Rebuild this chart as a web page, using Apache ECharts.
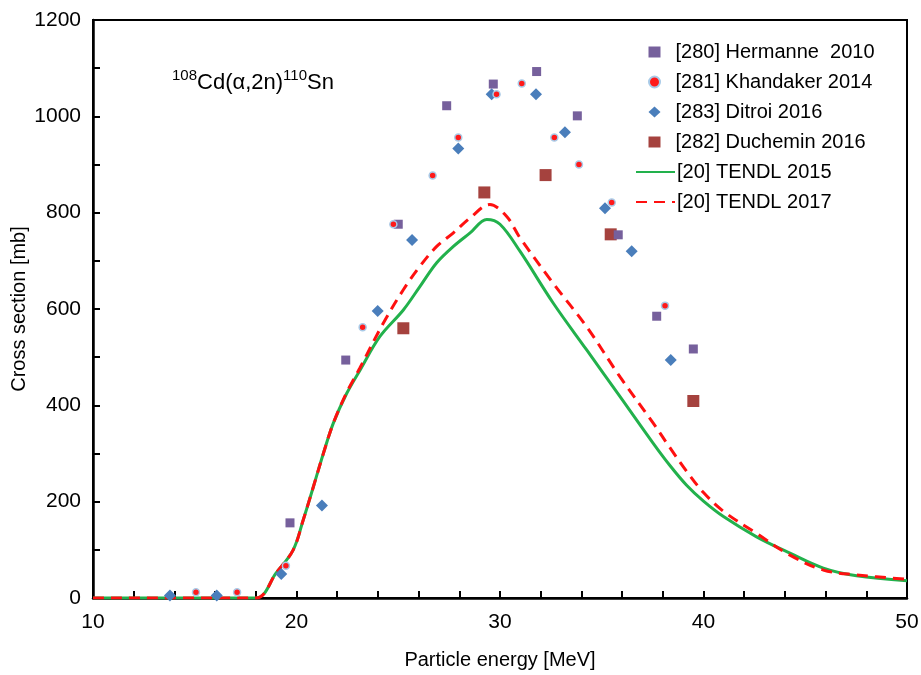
<!DOCTYPE html>
<html>
<head>
<meta charset="utf-8">
<script src="https://cdn.jsdelivr.net/npm/echarts@6/dist/echarts.min.js"></script>
<style>
  html, body { margin: 0; padding: 0; background: #fff; }
  #chart { width: 921px; height: 675px; }
</style>
</head>
<body>
<div id="chart"></div>
<script>
// ---- Data ----
const hermanneE = [19.68, 22.42, 25.0, 27.38, 29.67, 31.80, 33.80, 35.81, 37.70, 39.50];
const hermanneY = [156, 494, 776, 1022, 1067, 1093, 1001, 754, 585, 517];

const khandakerE = [15.06, 17.08, 19.48, 23.25, 24.76, 26.69, 27.95, 29.83, 31.07, 32.67, 33.88, 35.49, 38.11];
const khandakerY = [12, 12, 67, 562, 776, 877, 956, 1046, 1068, 956, 900, 821, 607];

const ditroiE = [13.78, 16.08, 19.25, 21.25, 23.99, 25.68, 27.95, 29.59, 31.77, 33.19, 35.16, 36.47, 38.39];
const ditroiY = [5, 5, 50, 192, 596, 743, 933, 1046, 1046, 967, 809, 720, 494];

const ducheminE = [25.25, 29.23, 32.24, 35.44, 39.50];
const ducheminY = [560, 842, 878, 755, 409];

const tendl2015E = [10, 18, 19.0, 19.84, 20.33, 20.83, 21.32, 21.81, 22.47, 23.12, 24.1, 25.25, 26.07, 26.89, 27.71, 28.53, 29.35, 30.0, 30.98, 32.62, 34.26, 35.9, 37.53, 38.35, 39.17, 40.0, 40.98, 42.61, 44.25, 45.89, 47.52, 50];
const tendl2015Y = [0, 0, 52, 100, 162, 231, 300, 363, 425, 473, 543, 598, 647, 696, 730, 758, 786, 776, 720, 612, 515, 418, 321, 275, 234, 201, 169, 127, 93, 62, 46, 36];

const tendl2017E = [10, 18, 19.0, 19.84, 20.33, 20.83, 21.32, 21.81, 22.47, 23.12, 24.27, 25.25, 26.07, 26.89, 27.71, 28.53, 29.5, 30.33, 30.98, 32.62, 34.26, 35.9, 37.53, 38.35, 39.17, 40.0, 40.98, 42.61, 44.25, 45.89, 47.52, 50];
const tendl2017Y = [0, 0, 52, 100, 162, 231, 300, 363, 427, 478, 571, 640, 689, 730, 758, 789, 817, 792, 748, 653, 563, 459, 363, 312, 263, 219, 180, 134, 89, 58, 48, 39];

const seriesNames = ['[280] Hermanne  2010', '[281] Khandaker 2014', '[283] Ditroi 2016', '[282] Duchemin 2016', '[20] TENDL 2015', '[20] TENDL 2017'];

const xAxisMin = 10, xAxisMax = 50, xAxisInterval = 10;
const yAxisMin = 0, yAxisMax = 1200, yAxisInterval = 200;

function zip(a, b) { return a.map((v, i) => [v, b[i]]); }

const FONT = 'Liberation Sans, Arial, sans-serif';
const chart = echarts.init(document.getElementById('chart'), null, { renderer: 'canvas' });

const legendText = { fontSize: 20, fontFamily: FONT, color: '#000' };

chart.setOption({
  animation: false,
  backgroundColor: '#fff',
  textStyle: { fontFamily: FONT },
  title: {
    left: 167, top: 63,
    text: '{sup|108}{main|Cd(α,2n)}{sup|110}{main|Sn}',
    textStyle: {
      fontWeight: 'normal',
      rich: {
        sup: { fontSize: 15, fontFamily: FONT, fontWeight: 'normal', color: '#000', verticalAlign: 'top', lineHeight: 16 },
        main: { fontSize: 22, fontFamily: FONT, fontWeight: 'normal', color: '#000', lineHeight: 30 }
      }
    }
  },
  grid: { left: 93, right: 14, top: 20, bottom: 77, show: true, borderColor: '#000', borderWidth: 2, containLabel: false, outerBoundsMode: 'none' },
  legend: [
    {
      orient: 'vertical', left: 648, top: 42, padding: 0,
      itemWidth: 12, itemHeight: 11, itemGap: 10,
      textStyle: Object.assign({ padding: [0, 0, 0, 10] }, legendText),
      data: [
        { name: seriesNames[0] },
        { name: seriesNames[1] },
        { name: seriesNames[2] },
        { name: seriesNames[3] }
      ]
    },
    {
      orient: 'vertical', left: 635, top: 162, padding: 0,
      itemWidth: 39, itemHeight: 11, itemGap: 10,
      textStyle: Object.assign({ padding: [0, 0, 0, -3] }, legendText),
      data: [
        { name: seriesNames[4], itemStyle: { opacity: 0 } },
        { name: seriesNames[5], itemStyle: { opacity: 0 } }
      ]
    }
  ],
  xAxis: {
    type: 'value', min: xAxisMin, max: xAxisMax, interval: xAxisInterval,
    name: 'Particle energy [MeV]', nameLocation: 'middle', nameGap: 52, nameMoveOverlap: false,
    nameTextStyle: { fontSize: 20, fontFamily: FONT, color: '#000' },
    axisLine: { onZero: false, lineStyle: { color: '#000', width: 2.5 } },
    axisTick: { inside: true, length: 7, lineStyle: { color: '#000', width: 2 } },
    minorTick: { show: true, splitNumber: 5, length: 7, lineStyle: { color: '#000', width: 2 } },
    axisLabel: { fontSize: 21, fontFamily: FONT, color: '#000', margin: 14 },
    splitLine: { show: false }
  },
  yAxis: {
    type: 'value', min: yAxisMin, max: yAxisMax, interval: yAxisInterval,
    name: 'Cross section [mb]', nameLocation: 'middle', nameGap: 64, nameMoveOverlap: false,
    nameTextStyle: { fontSize: 20, fontFamily: FONT, color: '#000' },
    axisLine: { show: true, lineStyle: { color: '#000', width: 2.5 } },
    axisTick: { inside: true, length: 7, lineStyle: { color: '#000', width: 2 } },
    minorTick: { show: true, splitNumber: 2, length: 7, lineStyle: { color: '#000', width: 2 } },
    axisLabel: { fontSize: 21, fontFamily: FONT, color: '#000', margin: 12, formatter: v => String(v) },
    splitLine: { show: false }
  },
  series: [
    {
      name: seriesNames[4], type: 'line', data: zip(tendl2015E, tendl2015Y), symbol: 'none', showSymbol: false,
      smooth: 0.35, z: 2,
      lineStyle: { color: '#22b14c', width: 3 }, itemStyle: { color: '#22b14c' }
    },
    {
      name: seriesNames[5], type: 'line', data: zip(tendl2017E, tendl2017Y), symbol: 'none', showSymbol: false,
      smooth: 0.35, z: 3,
      lineStyle: { color: '#ff1010', width: 3, type: [11, 7] }, itemStyle: { color: '#ff1010' }
    },
    {
      name: seriesNames[0], type: 'scatter', data: zip(hermanneE, hermanneY), symbol: 'rect', symbolSize: 9, z: 5,
      itemStyle: { color: '#76609c', opacity: 1 }
    },
    {
      name: seriesNames[1], type: 'scatter', data: zip(khandakerE, khandakerY), symbol: 'circle', symbolSize: 7, z: 6,
      itemStyle: { color: '#ff1a1a', borderColor: '#a9cbe8', borderWidth: 1.5, opacity: 1 }
    },
    {
      name: seriesNames[2], type: 'scatter', data: zip(ditroiE, ditroiY), symbol: 'diamond', symbolSize: 12, z: 4,
      itemStyle: { color: '#4a7ebb', opacity: 1 }
    },
    {
      name: seriesNames[3], type: 'scatter', data: zip(ducheminE, ducheminY), symbol: 'rect', symbolSize: 12, z: 4,
      itemStyle: { color: '#a5423e', opacity: 1 }
    }
  ]
});
</script>
</body>
</html>
